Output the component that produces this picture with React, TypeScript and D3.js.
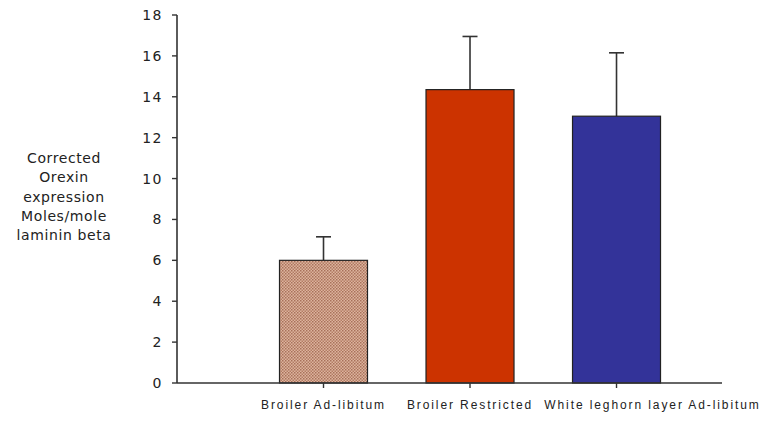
import React from "react";
import * as d3 from "d3";

const categories = ["Broiler Ad-libitum", "Broiler Restricted", "White leghorn layer Ad-libitum"];
const means = [6.0, 14.35, 13.05];
const errors = [1.15, 2.6, 3.1];
const yTicks = [0, 2, 4, 6, 8, 10, 12, 14, 16, 18];
const colors = ["url(#hatch)", "#cc3300", "#333399"];
const yLabelLines = ["Corrected", "Orexin", "expression", "Moles/mole", "laminin beta"];

export default function App() {
  const W = 768, H = 421;
  const x0 = 177, x1 = 722, yTop = 15, yBot = 383;
  const y = d3.scaleLinear().domain([0, 18]).range([yBot, yTop]);
  const x = d3.scaleLinear().domain([0, 3.72]).range([x0, x1]);
  const barW = 88;
  const labelOffsets = [0, 0, 36];
  return (
    <svg width={W} height={H} style={{ position: "absolute", left: 0, top: 0, background: "#fff" }}
      fontFamily="'Liberation Sans', Arial, sans-serif">
      <defs>
        <pattern id="hatch" width="3" height="3" patternUnits="userSpaceOnUse">
          <rect width="3" height="3" fill="#dcb49e" />
          <rect width="1.5" height="1.5" fill="#a8705a" />
          <rect x="1.5" y="1.5" width="1.5" height="1.5" fill="#b47c64" />
        </pattern>
      </defs>
      <rect width={W} height={H} fill="#fff" />
      {means.map((m, i) => {
        const cx = x(i + 1);
        return (
          <g key={i}>
            <line x1={cx} x2={cx} y1={y(m)} y2={y(m + errors[i])} stroke="#333" strokeWidth={1.6} />
            <line x1={cx - 7.5} x2={cx + 7.5} y1={y(m + errors[i])} y2={y(m + errors[i])} stroke="#333" strokeWidth={1.6} />
            <rect x={cx - barW / 2} y={y(m)} width={barW} height={y(0) - y(m)} fill={colors[i]} stroke="#222" strokeWidth={1.2} />
          </g>
        );
      })}
      <line x1={x0} x2={x0} y1={y(18)} y2={y(0)} stroke="#333" strokeWidth={1.6} />
      {yTicks.map((t) => (
        <g key={t}>
          <line x1={x0 - 5} x2={x0} y1={y(t)} y2={y(t)} stroke="#333" strokeWidth={1.4} />
          <text x={x0 - 14} y={y(t)} dy="0.36em" textAnchor="end" fontSize={14}
            fontFamily="'DejaVu Sans', sans-serif" letterSpacing={1.5} fill="#222">{t}</text>
        </g>
      ))}
      <line x1={x0} x2={x1} y1={y(0)} y2={y(0)} stroke="#333" strokeWidth={1.6} />
      {categories.map((c, i) => (
        <g key={c}>
          <line x1={x(i + 1)} x2={x(i + 1)} y1={y(0)} y2={y(0) + 5} stroke="#333" strokeWidth={1.4} />
          <text x={x(i + 1) + labelOffsets[i]} y={y(0) + 26} textAnchor="middle" fontSize={12} letterSpacing={1.9} fill="#222">{c}</text>
        </g>
      ))}
      {yLabelLines.map((l, i) => (
        <text key={l} x={64} y={163 + i * 19.3} textAnchor="middle" fontSize={14}
          fontFamily="'DejaVu Sans', sans-serif" letterSpacing={0.6} fill="#222">{l}</text>
      ))}
    </svg>
  );
}
